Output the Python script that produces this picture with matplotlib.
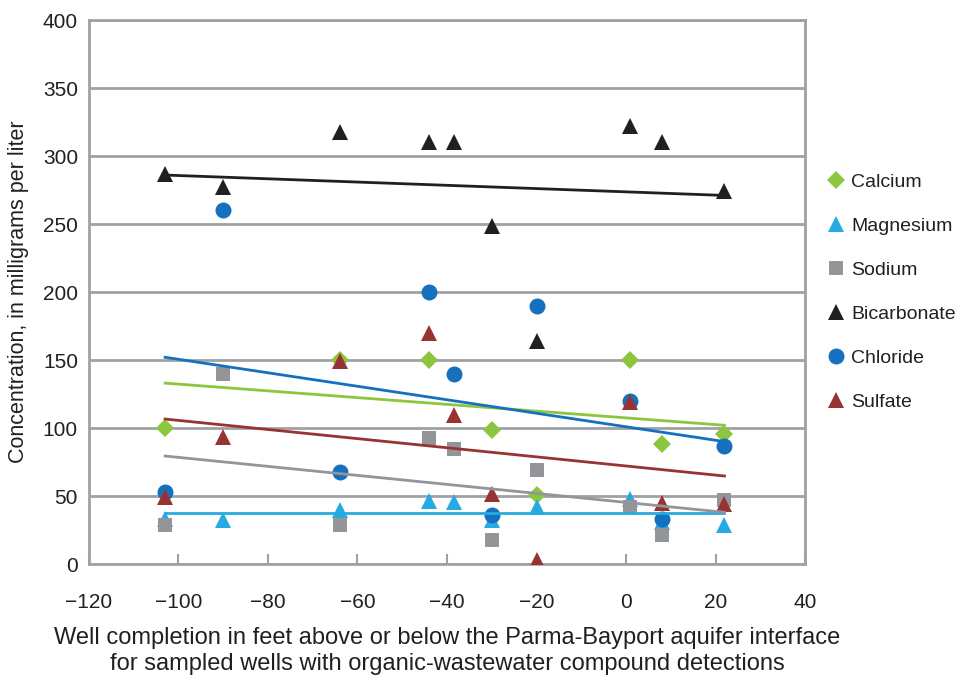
import matplotlib
matplotlib.use("Agg")
import matplotlib.pyplot as plt
import numpy as np

plt.rcParams["font.family"] = ["Liberation Sans Narrow", "Liberation Sans", "DejaVu Sans"]

# well completion depth relative to aquifer interface, feet
wells = [-103, -90, -64, -44, -38.5, -30, -20, 1, 8, 22]

calcium = [100, np.nan, 150, 150, np.nan, 98.5, 51, 150, 88, 95.5]
magnesium = [33, 32.5, 40, 46, 45.5, 32, 42, 48, 31, 29]
sodium = [29, 140, 29, 92.5, 84.5, 18, 69, 42, 21, 47]
bicarbonate = [287, 277, 318, 310, 310, 248.5, 164, 322, 310, 274]
chloride = [53, 260, 68, 200, 140, 36, 190, 120, 33, 87]
sulfate = [49, 93.5, 149, 170, 109.5, 51.5, 3, 119, 45, 44]

# linear trend lines (value at first and last well)
trend_x = [-103, 22]
trend_calcium = [133, 102]
trend_magnesium = [37.5, 37.5]
trend_sodium = [79.4, 38]
trend_bicarbonate = [286, 271]
trend_chloride = [152, 90]
trend_sulfate = [106.6, 64.7]

series = [
    ("Calcium", calcium, trend_calcium, "#8cc63f", "D", 9.5),
    ("Magnesium", magnesium, trend_magnesium, "#27aae1", "^", 11.5),
    ("Sodium", sodium, trend_sodium, "#939598", "s", 10.5),
    ("Bicarbonate", bicarbonate, trend_bicarbonate, "#231f20", "^", 11.5),
    ("Chloride", chloride, trend_chloride, "#1570be", "o", 11.5),
    ("Sulfate", sulfate, trend_sulfate, "#993333", "^", 11.5),
]

fig = plt.figure(figsize=(9.61, 6.79), dpi=100)
ax = fig.add_axes([89 / 961, 1 - 564 / 679, (805 - 89) / 961, (564 - 20) / 679])

grid_color = "#a0a1a4"
text_color = "#231f20"

for name, vals, trend, color, marker, ms in series:
    ax.plot(wells, vals, linestyle="none", marker=marker, markersize=ms,
            color=color, markeredgewidth=0, label=name, zorder=3)

for name, vals, trend, color, marker, ms in series:
    ax.plot(trend_x, trend, color=color, linewidth=2, zorder=4)

ax.set_xlim(-120, 40)
ax.set_ylim(0, 400)
ax.set_xticks(np.arange(-120, 41, 20))
ax.set_yticks(np.arange(0, 401, 50))
ax.set_xticklabels([f"\u2212{abs(v)}" if v < 0 else str(v) for v in range(-120, 41, 20)])

ax.yaxis.grid(True, color=grid_color, linewidth=2)
ax.set_axisbelow(True)
for side in ["left", "right", "bottom", "top"]:
    ax.spines[side].set_color(grid_color)
    ax.spines[side].set_linewidth(2)

ax.tick_params(axis="x", direction="in", length=7, width=1.5, color=grid_color,
               labelsize=15, pad=21, labelcolor=text_color)
ax.tick_params(axis="y", length=0, labelsize=15, pad=8, labelcolor=text_color)

ax.set_ylabel("Concentration, in milligrams per liter", fontsize=15.5,
              color=text_color, labelpad=10)
ax.set_xlabel("Well completion in feet above or below the Parma-Bayport aquifer interface\n"
              "for sampled wells with organic-wastewater compound detections",
              fontsize=17, color=text_color, labelpad=11, linespacing=1.2)

fig.legend(loc="center left", bbox_to_anchor=(826 / 961, 1 - 292 / 679),
           frameon=False, fontsize=14, handlelength=1.0, handletextpad=0.3,
           labelspacing=1.36, borderpad=0, borderaxespad=0, labelcolor=text_color)

fig.savefig("out.png", dpi=100)
